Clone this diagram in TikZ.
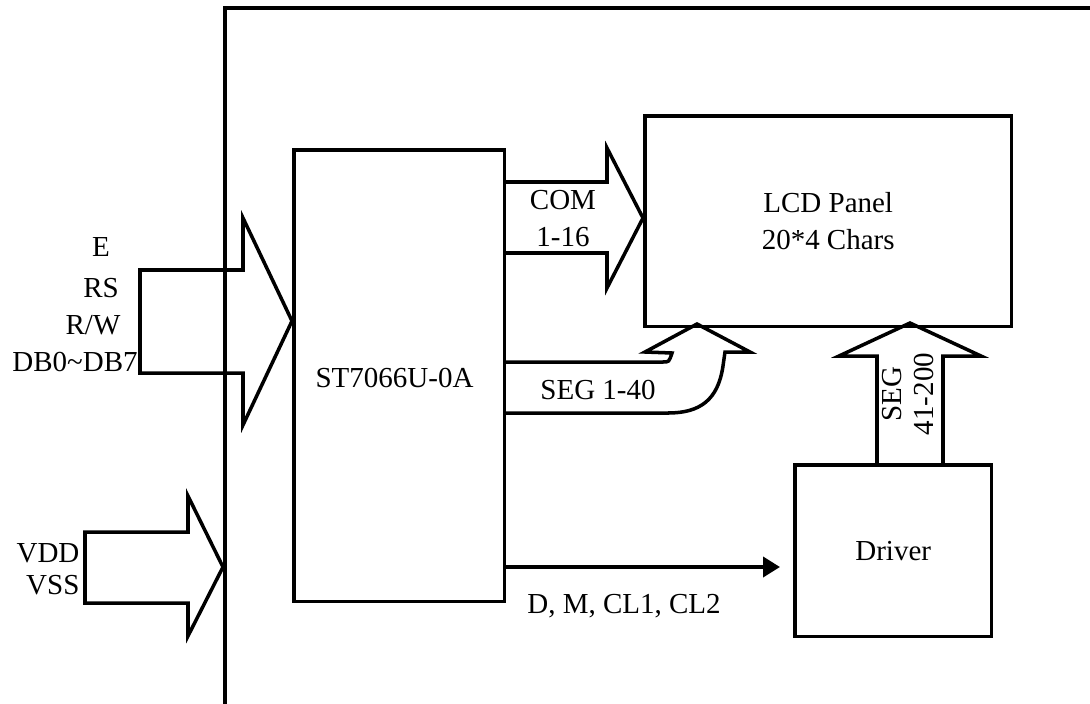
\documentclass[tikz,border=0pt]{standalone}
\usepackage{fontspec}
\setmainfont{Liberation Serif}
\usetikzlibrary{arrows.meta}
\begin{document}
\begin{tikzpicture}[x=0.02cm,y=-0.02cm,line width=2pt,
    font=\fontsize{16.5}{21}\selectfont,
    blk/.style={draw,anchor=north west,inner sep=0pt,align=center},
    sig/.style={-{Triangle[length=0.34cm,width=0.4cm]},line width=2.2pt}]
  \useasboundingbox (0,0) rectangle (1090,704);
  % module outline
  \draw (225,704) -- (225,8) -- (1090,8);
  % blocks
  \node[blk,minimum width=4.22cm,minimum height=9.04cm] (ic) at (292,148) {};
  \node[anchor=west] (icname) at (308,378) {ST7066U-0A};
  \node[blk,minimum width=7.34cm,minimum height=4.22cm] (lcd) at (643,114) {LCD Panel\\20*4 Chars};
  \node[blk,minimum width=3.94cm,minimum height=3.44cm] (drv) at (793,463) {Driver};
  % bus into the controller
  \draw (292,321) -- (243,218) -- (243,270) -- (140,270) -- (140,373)
    -- (243,373) -- (243,425) -- cycle;
  \node (e) at (101,247) {E};
  \node (rs) at (101,288) {RS};
  \node (rw) at (93,325) {R/W};
  \node (db) at (75,362) {DB0\textasciitilde DB7};
  % power
  \draw (223,567) -- (188,496) -- (188,532) -- (85,532) -- (85,603)
    -- (188,603) -- (188,636) -- cycle;
  \node[anchor=east] (vdd) at (87,553) {VDD};
  \node[anchor=east] (vss) at (87,585) {VSS};
  % common lines
  \draw (503,182) -- (607,182) -- (607,148) -- (643,218) -- (607,288)
    -- (607,253) -- (503,253);
  \node (com) at (563,200) {COM};
  \node (comn) at (563,237) {1-16};
  % segment lines from the controller
  \draw (503,362) -- (663,362) .. controls (669,362) .. (672,353)
    -- (645,352) -- (697,324) -- (750,352) -- (725,352) -- (723,366)
    .. controls (718,400) and (700,413) .. (668,413) -- (503,413);
  \node (seg) at (598,390) {SEG 1-40};
  % segment lines from the driver
  \draw (877,463) -- (877,356) -- (839,356) -- (910,323) -- (981,356)
    -- (943,356) -- (943,463);
  \node[rotate=90,align=center] (segd) at (908,394) {SEG\\[-3pt]41-200};
  % driver control
  \draw[sig,shorten >=0.26cm] (ic.east |- 0,567) -- (drv.west |- 0,567);
  \node (ctl) at (624,606) {D, M, CL1, CL2};
\end{tikzpicture}
\end{document}
